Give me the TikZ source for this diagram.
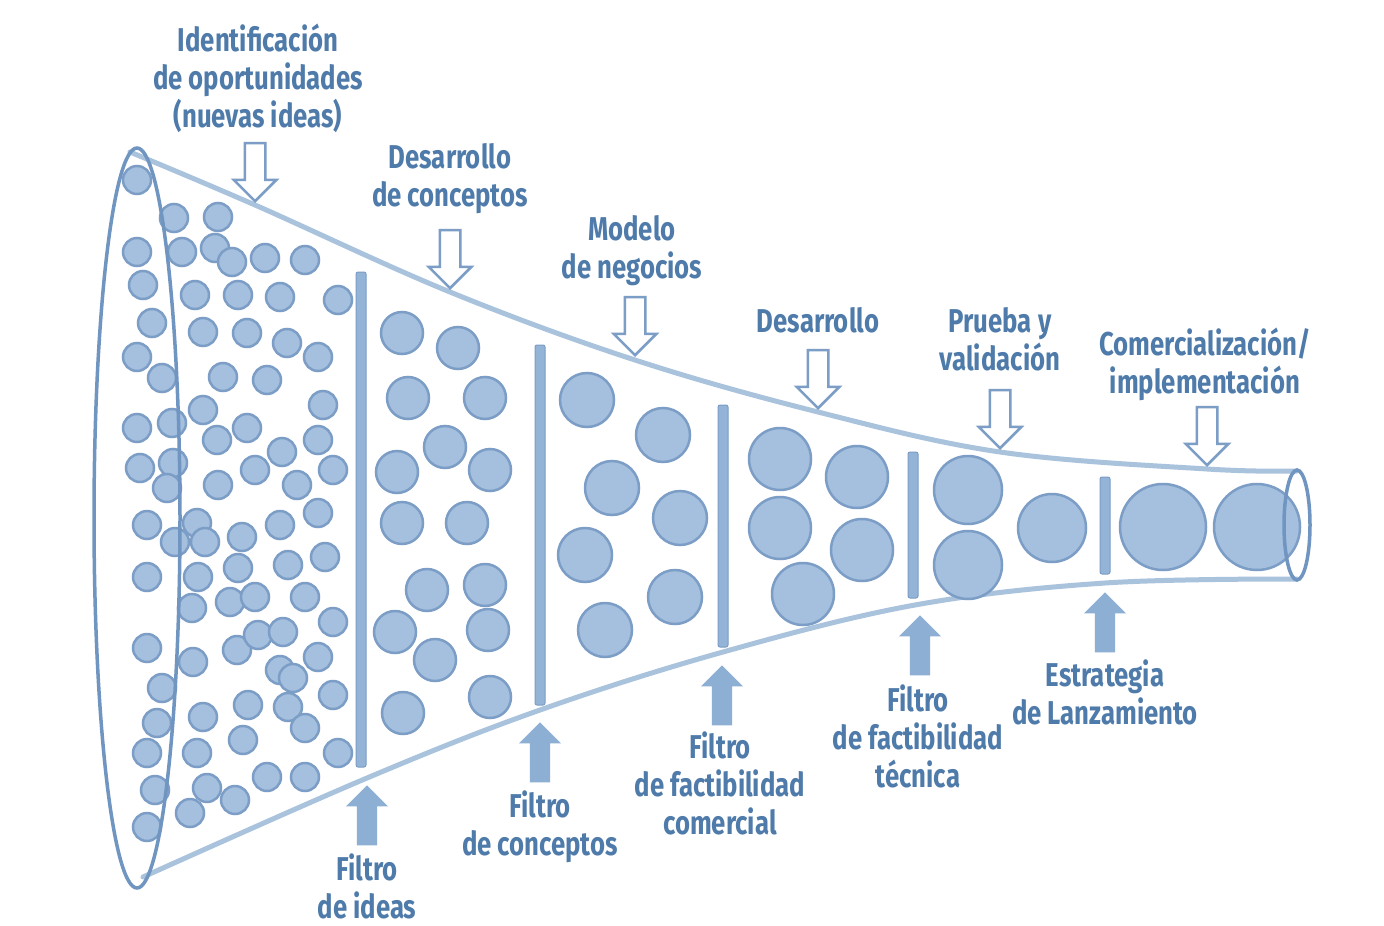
\documentclass[tikz,border=0pt]{standalone}
\usepackage{fontspec}
\newfontfamily\lblfont[FakeStretch=0.78]{Fira Sans}
\usetikzlibrary{shapes.arrows,positioning}
\definecolor{ballfill}{HTML}{A5C0DF}
\definecolor{ballline}{HTML}{7C9DC5}
\definecolor{funnelline}{HTML}{A9C3DD}
\definecolor{rimline}{HTML}{6F95C0}
\definecolor{barfill}{HTML}{93B3D7}
\definecolor{upfill}{HTML}{8EAFD4}
\definecolor{txtblue}{HTML}{4F7BAA}

\begin{document}
\begin{tikzpicture}[x=1pt,y=-1pt]
\tikzstyle{ball}=[fill=ballfill,draw=ballline,line width=2.5pt]
\tikzstyle{funnel}=[draw=funnelline,line width=5pt,line cap=round]
\tikzstyle{rim}=[draw=rimline,line width=3.5pt]
\tikzstyle{filterbar}=[fill=barfill,draw=ballline,line width=1pt,rounded corners=2pt]
\tikzstyle{lbl}=[font=\lblfont\bfseries\fontsize{33}{38}\selectfont,text=txtblue,align=center,inner sep=0pt]
\tikzstyle{downarr}=[single arrow,rotate=-90,anchor=tip,draw=ballline,fill=white,line width=2.5pt,
  minimum height=58pt,inner xsep=0pt,inner ysep=9pt,single arrow head extend=11pt]
\tikzstyle{uparr}=[single arrow,rotate=90,anchor=tip,fill=upfill,draw=none,
  minimum height=60pt,inner xsep=0pt,inner ysep=10pt,single arrow head extend=11pt]

\useasboundingbox[fill=white] (0,0) rectangle (1384,926);

% funnel walls
\draw[funnel] plot[smooth,tension=0.6] coordinates {(130,152) (255,205) (450,292) (635,360) (818,412) (1000,452) (1207,469) (1297,471)};
\draw[funnel] plot[smooth,tension=0.6] coordinates {(143,877) (367,778) (540,710) (723,652) (915,605) (1105,583) (1297,579)};

% ideas
\foreach \x/\y in {137/180,174/218,218/217,137/252,182/252,215/248,232/262,265/258,305/260,
  143/285,195/295,238/295,280/297,338/300,152/323,203/332,247/333,287/343,318/357,137/357,
  162/378,223/377,267/380,323/405,203/410,172/423,247/428,137/428,217/440,318/440,282/452,
  140/468,173/463,255/470,333/470,167/488,218/485,297/485,147/525,197/523,175/542,205/542,
  242/537,280/525,318/513,147/577,198/577,238/568,288/565,325/557,192/608,230/602,255/597,
  305/597,333/622,147/648,193/662,237/650,258/635,283/632,318/657,280/670,293/678,162/688,
  248/705,288/707,333/695,157/723,203/717,305/728,243/740,147/753,197/753,338/753,267/777,
  305/777,155/790,207/788,235/800,190/813,147/827}
  \draw[ball] (\x,\y) circle (14pt);
\foreach \x/\y in {402/333,458/348,408/398,485/398,445/447,397/472,490/470,402/523,467/523,
  427/590,485/585,395/632,488/630,435/660,490/697,403/713}
  \draw[ball] (\x,\y) circle (21pt);
\foreach \x/\y in {587/400,663/435,612/488,680/518,585/555,675/597,605/630}
  \draw[ball] (\x,\y) circle (27pt);
\foreach \x/\y in {780/459,857/477,780/528,862/550,803/594}
  \draw[ball] (\x,\y) circle (31pt);
\foreach \x/\y in {968/490,968/565,1052/528}
  \draw[ball] (\x,\y) circle (34pt);
\foreach \x/\y in {1163/527,1257/527}
  \draw[ball] (\x,\y) circle (43pt);

% filters
\foreach \x/\a/\b in {361/272/767,540/345/705,723/405/647,913/452/598,1105/477/574}
  \draw[filterbar] (\x-5,\a) rectangle (\x+5,\b);

\draw[rim] (137,518) ellipse (43pt and 370pt);
\draw[rim] (1297,525) ellipse (13pt and 55pt);

% stages (top)
\node[downarr] (aidea) at (255,203) {};
\node[downarr] (aconc) at (450,290) {};
\node[downarr] (aneg) at (635,357) {};
\node[downarr] (adesa) at (818,410) {};
\node[downarr] (aprue) at (1000,450) {};
\node[downarr] (acom) at (1207,467) {};

\node[lbl] (lidea) at (258,78) {Identificación\\de oportunidades\\(nuevas ideas)};
\node[lbl] (lconc) at (450,179) {Desarrollo\\de conceptos};
\node[lbl] (lneg) at (632,251) {Modelo\\de negocios};
\node[lbl] (ldesa) at (818,320) {Desarrollo};
\node[lbl] (lprue) at (1000,339) {Prueba y\\validación};
\node[lbl] (lcom) at (1205,364) {Comercialización/\\implementación};

% filters (bottom)
\node[uparr] (fideas) at (367,785) {};
\node[uparr] (fconc) at (540,722) {};
\node[uparr] (fcom) at (722,665) {};
\node[uparr] (ftec) at (920,615) {};
\node[uparr] (flanz) at (1105,592) {};

\node[lbl] (lfideas) at (367,886) {Filtro\\de ideas};
\node[lbl] (lfconc) at (540,827) {Filtro\\de conceptos};
\node[lbl] (lfcom) at (720,783) {Filtro\\de factibilidad\\comercial};
\node[lbl] (lftec) at (918,736) {Filtro\\de factibilidad\\técnica};
\node[lbl] (lflanz) at (1105,692) {Estrategia\\de Lanzamiento};
\end{tikzpicture}
\end{document}
